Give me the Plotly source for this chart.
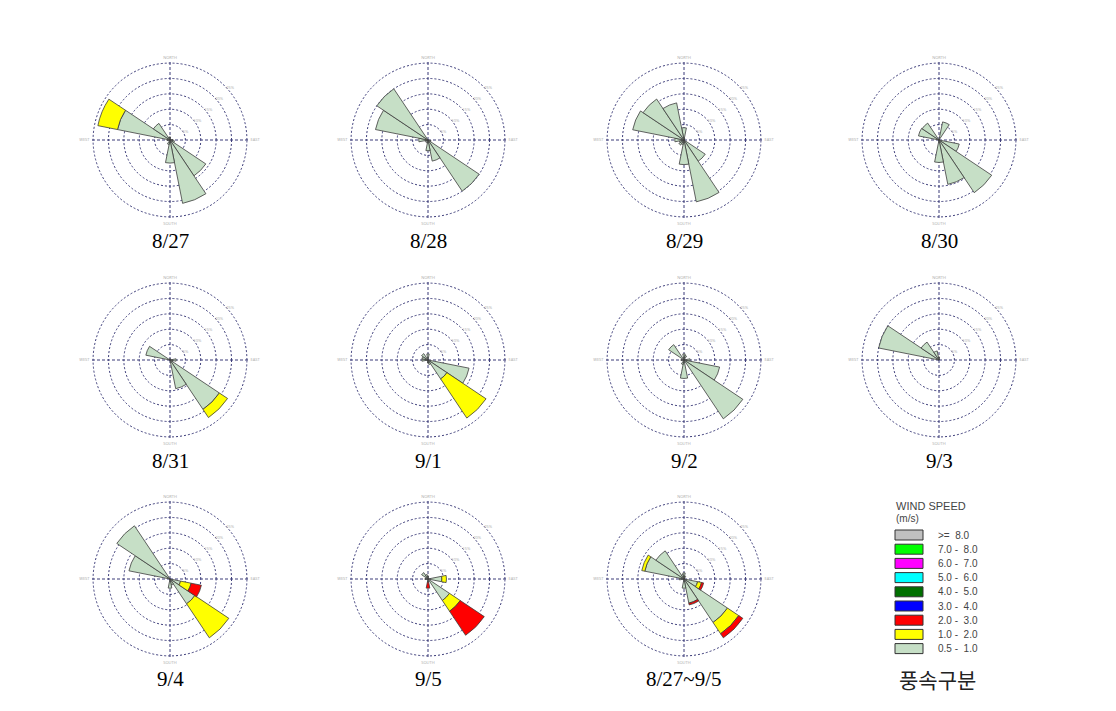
import plotly.graph_objects as go

W, H = 1116, 711

# ---------------- data ----------------
DIRS = ["N", "NNE", "NE", "ENE", "E", "ESE", "SE", "SSE",
        "S", "SSW", "SW", "WSW", "W", "WNW", "NW", "NNW"]
DIR_DEG = [0, 22.5, 45, 67.5, 90, 112.5, 135, 157.5,
           180, 202.5, 225, 247.5, 270, 292.5, 315, 337.5]

PANEL_LABELS = ["8/27", "8/28", "8/29", "8/30",
                "8/31", "9/1", "9/2", "9/3",
                "9/4", "9/5", "8/27~9/5"]

# frequency (%) per direction, order N ... NNW
# class 0.5-1.0 m/s
g_0827 = [1, 0, 0, 0, 1, 1.5, 14, 21, 7.5, 1.5, 0, 0, 1, 17.4, 6.5, 1]
g_0828 = [0, 0, 0, 0, 0, 1, 20, 7, 3.5, 1, 0, 1, 3, 17.4, 20, 0]
g_0829 = [4, 0.5, 0, 0, 0, 0, 8.3, 20.5, 8, 1.5, 2, 1.5, 3, 17, 16, 12.3]
g_0830 = [0, 6, 0, 0, 0, 6.7, 20.6, 14.7, 7.3, 0, 0, 0, 0, 6.8, 6.6, 0]
g_0831 = [0.5, 0, 0, 0, 2, 1, 19.3, 9.5, 0, 0, 0, 0, 0, 8, 0, 0]
g_0901 = [2, 0, 0, 0, 0, 13.6, 7.4, 1.5, 1, 0, 0, 0, 2, 2, 2.5, 0]
g_0902 = [2, 1.5, 0, 0, 2, 11.8, 23, 0, 6, 1.5, 0, 0, 1, 0, 6, 0]
g_0903 = [1, 0, 0, 0, 0, 0, 0, 0, 0, 0, 0, 0, 0, 20, 7, 3]
g_0904 = [0, 0, 0, 0, 0, 3.5, 9.7, 2, 3, 0, 0, 0, 0, 13.6, 20.8, 0]
g_0905 = [1, 0, 0, 0, 4.5, 0, 8.4, 0, 1, 0, 0, 0, 1, 0, 2.5, 1.5]
g_all = [2, 1, 0, 0, 0, 4.5, 17, 8, 3, 0, 0, 0, 1.5, 13, 11, 1.5]

# class 1.0-2.0 m/s
y_0827 = [0, 0, 0, 0, 0, 0, 0, 0, 0, 0, 0, 0, 0, 6.5, 0, 0]
y_0828 = [0, 0, 0, 0, 0, 0, 0, 0, 0, 0, 0, 0, 0, 0, 0, 0]
y_0829 = [0, 0, 0, 0, 0, 0, 0, 0, 0, 0, 0, 0, 0, 0, 0, 0]
y_0830 = [0, 0, 0, 0, 0, 0, 0, 0, 0, 0, 0, 0, 0, 0, 0, 0]
y_0831 = [0, 0, 0, 0, 0, 0, 3.2, 0, 0, 0, 0, 0, 0, 0, 0, 0]
y_0901 = [0, 0, 0, 0, 0, 0, 15.3, 0, 0, 0, 0, 0, 0, 0, 0, 0]
y_0902 = [0, 0, 0, 0, 0, 0, 0, 0, 0, 0, 0, 0, 0, 0, 0, 0]
y_0903 = [0, 0, 0, 0, 0, 0, 0, 0, 0, 0, 0, 0, 0, 0, 0, 0]
y_0904 = [0, 0, 0, 0, 0, 3.5, 13.3, 0, 0, 0, 0, 0, 0, 0, 0, 0]
y_0905 = [0, 0, 0, 0, 1.5, 0, 4.2, 0, 0, 0, 0, 0, 0, 0, 0, 0]
y_all = [0, 0, 0, 0, 0, 1.3, 4.4, 0, 0, 0, 0, 0, 0, 1, 0, 0]

# class 2.0-3.0 m/s
r_0827 = [0, 0, 0, 0, 0, 0, 0, 0, 0, 0, 0, 0, 0, 0, 0, 0]
r_0828 = [0, 0, 0, 0, 0, 0, 0, 0, 0, 0, 0, 0, 0, 0, 0, 0]
r_0829 = [0, 0, 0, 0, 0, 0, 0, 0, 0, 0, 0, 0, 0, 0, 0, 0]
r_0830 = [0, 0, 0, 0, 0, 0, 0, 0, 0, 0, 0, 0, 0, 0, 0, 0]
r_0831 = [0, 0, 0, 0, 0, 0, 0, 0, 0, 0, 0, 0, 0, 0, 0, 0]
r_0901 = [0, 0, 0, 0, 0, 0, 0, 0, 0, 0, 0, 0, 0, 0, 0, 0]
r_0902 = [0, 0, 0, 0, 0, 0, 0, 0, 0, 0, 0, 0, 0, 0, 0, 0]
r_0903 = [0, 0, 0, 0, 0, 0, 0, 0, 0, 0, 0, 0, 0, 0, 0, 0]
r_0904 = [0, 0, 0, 0, 0, 3.4, 0, 0, 0, 0, 0, 0, 0, 0, 0, 0]
r_0905 = [0, 0, 0, 0, 0, 0, 9.4, 0, 2, 0, 0, 0, 0, 0, 0, 0]
r_all = [0, 0, 0, 0, 0, 0.7, 1.6, 0.6, 0, 0, 0, 0, 0, 0, 0, 0]

GREEN = [g_0827, g_0828, g_0829, g_0830, g_0831, g_0901, g_0902, g_0903, g_0904, g_0905, g_all]
YELLOW = [y_0827, y_0828, y_0829, y_0830, y_0831, y_0901, y_0902, y_0903, y_0904, y_0905, y_all]
RED = [r_0827, r_0828, r_0829, r_0830, r_0831, r_0901, r_0902, r_0903, r_0904, r_0905, r_all]

RING_VALUES = [5, 10, 15, 20, 25]
RING_TEXT = ["5%", "10%", "15%", "20%", "25%"]
COMPASS_TEXT = ["NORTH", "EAST", "SOUTH", "WEST"]

SPEED_CLASSES = [">=  8.0", "7.0 -  8.0", "6.0 -  7.0", "5.0 -  6.0", "4.0 -  5.0",
                 "3.0 -  4.0", "2.0 -  3.0", "1.0 -  2.0", "0.5 -  1.0"]
SPEED_COLORS = ["#C0C0C0", "#00FF00", "#FF00FF", "#00FFFF", "#006F00",
                "#0000FF", "#FF0000", "#FFFF00", "#C6DFC6"]

# ---------------- layout constants ----------------
COL_X = [170, 428, 684, 939]
ROW_Y = [140, 360, 579]
LABEL_Y = [241, 461, 679]
RADIUS = 80
GRID_COL = "#3a3a78"

fig = go.Figure()

STACK = [(GREEN, SPEED_COLORS[8], "0.5 - 1.0"),
         (YELLOW, SPEED_COLORS[7], "1.0 - 2.0"),
         (RED, SPEED_COLORS[6], "2.0 - 3.0")]

layout_polars = {}
annotations = []
for i, label in enumerate(PANEL_LABELS):
    row, col = divmod(i, 4)
    cx, cy = COL_X[col], ROW_Y[row]
    pname = "polar" if i == 0 else f"polar{i + 1}"
    for series, color, name in STACK:
        vals = series[i]
        th = [d for d, v in zip(DIR_DEG, vals) if v > 0]
        rr = [v for v in vals if v > 0]
        fig.add_trace(go.Barpolar(
            r=rr, theta=th, width=[22.5] * len(rr), subplot=pname,
            marker=dict(color=color, line=dict(color="#3c3c3c", width=0.8)),
            name=name, showlegend=False))
    layout_polars[pname] = dict(
        domain=dict(x=[(cx - RADIUS) / W, (cx + RADIUS) / W],
                    y=[(H - cy - RADIUS) / H, (H - cy + RADIUS) / H]),
        bgcolor="white",
        barmode="stack", bargap=0,
        radialaxis=dict(range=[0, 26], tickvals=RING_VALUES, ticktext=RING_TEXT,
                        showline=False, ticks="", angle=45, tickangle=45,
                        gridcolor=GRID_COL, griddash="2px,2px", gridwidth=1,
                        tickfont=dict(size=4, color="#aaaaaa")),
        angularaxis=dict(direction="clockwise", rotation=90,
                         tickvals=[0, 90, 180, 270], ticktext=COMPASS_TEXT,
                         showline=False, ticks="",
                         gridcolor=GRID_COL, griddash="3px,2px", gridwidth=1,
                         tickfont=dict(size=4, color="#aaaaaa")),
    )
    annotations.append(dict(
        x=cx / W, y=1 - LABEL_Y[row] / H, xref="paper", yref="paper",
        text=label, showarrow=False, xanchor="center", yanchor="middle",
        font=dict(family="Liberation Serif", size=21, color="black")))

# ---------------- custom speed legend ----------------
LEG_X0, LEG_BOX_W, LEG_BOX_H = 895, 28, 10
LEG_TOP, LEG_STEP = 530, 14.2
shapes = []
for k, (txt, col) in enumerate(zip(SPEED_CLASSES, SPEED_COLORS)):
    top = LEG_TOP + k * LEG_STEP
    shapes.append(dict(type="rect", xref="paper", yref="paper",
                       x0=LEG_X0 / W, x1=(LEG_X0 + LEG_BOX_W) / W,
                       y0=1 - (top + LEG_BOX_H) / H, y1=1 - top / H,
                       fillcolor=col, line=dict(color="#333333", width=1)))
    annotations.append(dict(
        x=936 / W, y=1 - (top + LEG_BOX_H / 2) / H, xref="paper", yref="paper",
        text=txt, showarrow=False, xanchor="left", yanchor="middle",
        font=dict(family="Liberation Sans", size=10, color="#444444")))

annotations.append(dict(x=894 / W, y=1 - 506 / H, xref="paper", yref="paper",
                        text="WIND SPEED", showarrow=False, xanchor="left", yanchor="middle",
                        font=dict(family="Liberation Sans", size=11, color="#444444")))
annotations.append(dict(x=894 / W, y=1 - 518 / H, xref="paper", yref="paper",
                        text="(m/s)", showarrow=False, xanchor="left", yanchor="middle",
                        font=dict(family="Liberation Sans", size=10, color="#444444")))
annotations.append(dict(x=937 / W, y=1 - 679 / H, xref="paper", yref="paper",
                        text="풍속구분", showarrow=False, xanchor="center", yanchor="middle",
                        font=dict(family="Noto Sans CJK KR", size=21, color="#222222")))

fig.update_layout(
    width=W, height=H, autosize=False,
    margin=dict(l=0, r=0, t=0, b=0),
    paper_bgcolor="white", plot_bgcolor="white",
    showlegend=False,
    annotations=annotations, shapes=shapes,
    **layout_polars)

fig.write_html("out.html")
